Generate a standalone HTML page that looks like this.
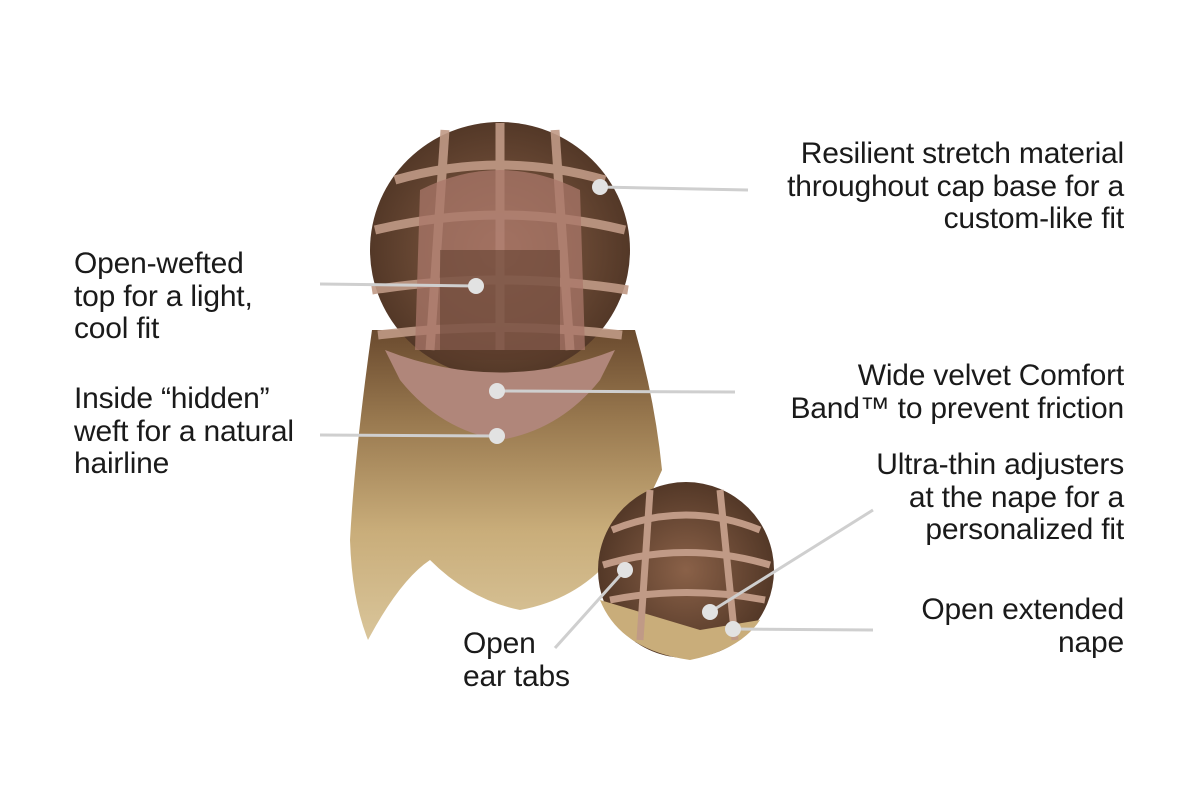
<!DOCTYPE html>
<html><head><meta charset="utf-8"><style>
html,body{margin:0;padding:0;background:#fff;width:1200px;height:800px;overflow:hidden}
.t{position:absolute;font-family:"Liberation Sans",Arial,sans-serif;font-size:30px;line-height:32.5px;color:#1a1a1a;letter-spacing:-0.2px}
.r{text-align:right;right:76px}
</style></head><body>
<svg width="1200" height="800" style="position:absolute;left:0;top:0">
<defs>
<linearGradient id="hair" x1="0" y1="0" x2="0" y2="1">
<stop offset="0" stop-color="#6a4a2e"/><stop offset="0.3" stop-color="#9a7a50"/><stop offset="0.65" stop-color="#c9ad7a"/><stop offset="1" stop-color="#d9c59a"/></linearGradient>
<radialGradient id="cap" cx="0.5" cy="0.5" r="0.55"><stop offset="0" stop-color="#8a6148"/><stop offset="1" stop-color="#4e3424"/></radialGradient>
</defs>
<path d="M372 330 Q355 450 350 540 Q352 600 368 640 Q400 580 430 560 Q470 600 520 610 Q575 600 610 560 Q640 520 662 470 Q655 400 635 330 Z" fill="url(#hair)"/>
<ellipse cx="500" cy="250" rx="130" ry="128" fill="url(#cap)"/>
<g stroke="#c09a86" stroke-width="9" fill="none" opacity="0.9">
<path d="M395 180 Q500 150 605 180"/><path d="M375 230 Q500 200 625 230"/><path d="M372 290 Q500 270 628 290"/><path d="M378 335 Q500 320 622 335"/>
<path d="M445 130 L430 350"/><path d="M555 130 L570 350"/><path d="M500 123 L500 350"/>
</g>
<path d="M420 190 Q500 150 580 190 L585 350 L415 350 Z" fill="#a9776a" opacity="0.75"/>
<path d="M440 250 L560 250 L560 360 L440 360 Z" fill="#5a3a2a" opacity="0.5"/>
<path d="M385 350 Q500 395 615 350 L600 380 Q560 430 500 440 Q440 430 400 380 Z" fill="#b0867a"/>
<circle cx="686" cy="570" r="88" fill="url(#cap)"/>
<path d="M600 600 Q620 650 690 660 Q740 650 760 620 L700 630 Z" fill="#c9ad7a"/>
<g stroke="#c09a86" stroke-width="7" fill="none">
<path d="M612 530 Q686 500 760 530"/><path d="M603 565 Q686 540 770 565"/><path d="M610 600 Q686 585 765 600"/>
<path d="M650 490 L640 640"/><path d="M720 490 L735 640"/>
</g>
<g stroke="#cfcfcf" stroke-width="3">
<line x1="600" y1="187" x2="748" y2="190"/>
<line x1="320" y1="284" x2="476" y2="286"/>
<line x1="497" y1="391" x2="735" y2="392"/>
<line x1="320" y1="435" x2="497" y2="436"/>
<line x1="710" y1="612" x2="873" y2="510"/>
<line x1="733" y1="629" x2="873" y2="630"/>
<line x1="625" y1="570" x2="555" y2="648"/>
</g>
<g fill="#e2e2e2">
<circle cx="600" cy="187" r="8"/><circle cx="476" cy="286" r="8"/><circle cx="497" cy="391" r="8"/>
<circle cx="497" cy="436" r="8"/><circle cx="710" cy="612" r="8"/><circle cx="733" cy="629" r="8"/><circle cx="625" cy="570" r="8"/>
</g>
</svg>
<div class="t r" style="top:138px">Resilient stretch material<br>throughout cap base for a<br>custom-like fit</div>
<div class="t" style="left:74px;top:248px">Open-wefted<br>top for a light,<br>cool fit</div>
<div class="t" style="left:74px;top:383px">Inside “hidden”<br>weft for a natural<br>hairline</div>
<div class="t r" style="top:360px">Wide velvet Comfort<br>Band™ to prevent friction</div>
<div class="t r" style="top:449px">Ultra-thin adjusters<br>at the nape for a<br>personalized fit</div>
<div class="t r" style="top:594px">Open extended<br>nape</div>
<div class="t" style="left:463px;top:628px">Open<br>ear tabs</div>
</body></html>
